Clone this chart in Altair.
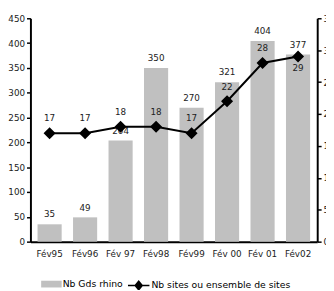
import altair as alt
import pandas as pd

months = ["Fév95", "Fév96", "Fév 97", "Fév98", "Fév99", "Fév 00", "Fév 01", "Fév02"]
gds_rhino = [35, 49, 204, 350, 270, 321, 404, 377]
nb_sites = [17, 17, 18, 18, 17, 22, 28, 29]
site_label_pos = ["above", "above", "above", "above", "above", "above", "above", "below"]

bar_name = "Nb Gds rhino"
line_name = "Nb sites ou ensemble de sites"

df = pd.DataFrame({
    "month": months,
    "rhino": gds_rhino,
    "sites": nb_sites,
    "pos": site_label_pos,
    "s1": [bar_name] * len(months),
    "s2": [line_name] * len(months),
})

FONT = "DejaVu Sans"
xaxis = alt.Axis(labelAngle=0, ticks=False, domainColor="black", domainWidth=2,
                 labelFont=FONT, labelFontSize=9, labelColor="#222", labelPadding=8)
x = alt.X("month:N", sort=months, title=None,
          scale=alt.Scale(paddingInner=0.32, paddingOuter=0.2), axis=xaxis)

ybar = alt.Scale(domain=[0, 450])
yline = alt.Scale(domain=[0, 35])

left_axis = alt.Axis(values=list(range(0, 451, 50)), grid=False, domainColor="black",
                     domainWidth=2, tickColor="black", tickWidth=1.5, tickSize=4,
                     labelFont=FONT, labelFontSize=9, labelColor="#222", labelPadding=2)
right_axis = alt.Axis(orient="right", values=list(range(0, 36, 5)), grid=False,
                      domainColor="black", domainWidth=2, tickColor="black", tickWidth=1.5,
                      tickSize=4, labelFont=FONT, labelFontSize=9, labelColor="#222",
                      labelPadding=2)

base = alt.Chart(df)

bars = base.mark_bar().encode(
    x=x,
    y=alt.Y("rhino:Q", scale=ybar, title=None, axis=left_axis),
    fill=alt.Fill("s1:N", scale=alt.Scale(range=["#c0c0c0"]),
                  legend=alt.Legend(title=None, orient="none", legendX=11, legendY=262,
                                    symbolType="M-1,-0.33H1V0.33H-1Z", symbolSize=441,
                                    symbolStrokeWidth=0, labelFont=FONT, labelFontSize=9.5,
                                    labelColor="black", labelOffset=1, padding=0)),
)
bar_text = base.mark_text(baseline="bottom", dy=-5, font=FONT, fontSize=9, color="#222").encode(
    x=x,
    y=alt.Y("rhino:Q", scale=ybar, title=None, axis=left_axis),
    text="rhino:Q",
)

line = base.mark_line(strokeWidth=2, point=alt.OverlayMarkDef(shape="diamond", size=90, filled=True, color="black")).encode(
    x=x,
    y=alt.Y("sites:Q", scale=yline, title=None, axis=right_axis),
    stroke=alt.Stroke("s2:N", scale=alt.Scale(range=["black"]),
                      legend=alt.Legend(title=None, orient="none", legendX=99, legendY=262,
                                        symbolType="M-1,0L1,0M0,-0.4L0.33,0L0,0.4L-0.33,0Z",
                                        symbolSize=484, symbolStrokeWidth=1.5,
                                        symbolFillColor="black", symbolStrokeColor="black",
                                        labelFont=FONT, labelFontSize=9.5, labelColor="black",
                                        labelOffset=1, padding=0)),
)
above = base.transform_filter(alt.datum.pos == "above").mark_text(
    baseline="bottom", dy=-10, font=FONT, fontSize=9, color="#222").encode(
    x=x,
    y=alt.Y("sites:Q", scale=yline, title=None, axis=right_axis),
    text="sites:Q",
)
below = base.transform_filter(alt.datum.pos == "below").mark_text(
    baseline="top", dy=8, font=FONT, fontSize=9, color="#222").encode(
    x=x,
    y=alt.Y("sites:Q", scale=yline, title=None, axis=right_axis),
    text="sites:Q",
)

left = alt.layer(bars, bar_text)
right = alt.layer(line, above, below)

chart = alt.layer(left, right).resolve_scale(y="independent").properties(
    width=294, height=229,
    autosize=alt.AutoSizeParams(type="none"),
    padding={"left": 23, "top": 7, "right": 9, "bottom": 46},
).configure_view(stroke=None)

chart.save("out.html", embed_options={"renderer": "svg", "actions": False})
